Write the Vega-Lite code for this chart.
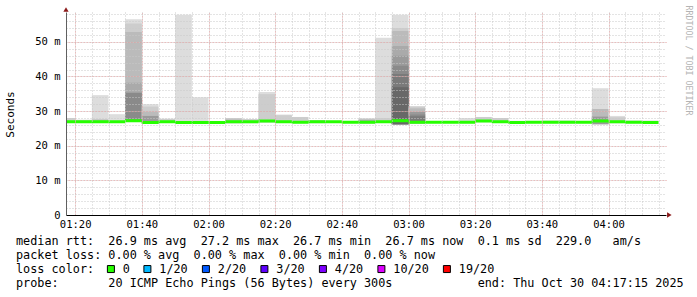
{
  "$schema": "https://vega.github.io/schema/vega-lite/v6.json",
  "width": 600,
  "height": 203,
  "autosize": "none",
  "padding": {"left": 66, "top": 12, "right": 31, "bottom": 82},
  "background": "white",
  "config": {"view": {"stroke": null}, "font": "DejaVu Sans Mono"},
  "title": {
    "text": [
      "median\u00a0rtt:\u00a0\u00a026.9\u00a0ms\u00a0avg\u00a0\u00a027.2\u00a0ms\u00a0max\u00a0\u00a026.7\u00a0ms\u00a0min\u00a0\u00a026.7\u00a0ms\u00a0now\u00a0\u00a00.1\u00a0ms\u00a0sd\u00a0\u00a0229.0\u00a0\u00a0\u00a0am/s",
      "packet\u00a0loss:\u00a00.00\u00a0%\u00a0avg\u00a0\u00a00.00\u00a0%\u00a0max\u00a0\u00a00.00\u00a0%\u00a0min\u00a0\u00a00.00\u00a0%\u00a0now"
    ],
    "subtitle": "probe:\u00a0\u00a0\u00a0\u00a0\u00a0\u00a0\u00a020\u00a0ICMP\u00a0Echo\u00a0Pings\u00a0(56\u00a0Bytes)\u00a0every\u00a0300s\u00a0\u00a0\u00a0\u00a0\u00a0\u00a0\u00a0\u00a0\u00a0\u00a0\u00a0\u00a0end:\u00a0Thu\u00a0Oct\u00a030\u00a004:17:15\u00a02025",
    "orient": "bottom",
    "anchor": "start",
    "frame": "group",
    "font": "DejaVu Sans Mono",
    "fontSize": 11.8,
    "fontWeight": "normal",
    "color": "black",
    "lineHeight": 14,
    "subtitleFont": "DejaVu Sans Mono",
    "subtitleFontSize": 11.8,
    "subtitleColor": "black",
    "subtitlePadding": 16,
    "baseline": "top",
    "dx": -50,
    "dy": -46,
    "offset": 6
  },
  "resolve": {"scale": {"x": "shared", "y": "shared"}, "axis": {"x": "independent", "y": "independent"}},
  "layer": [
    {
      "data": {
        "values": [
          {"s": "01:15", "e": "01:20", "lo": 26.6, "hi": 28.0, "lv": "2"},
          {"s": "01:20", "e": "01:25", "lo": 26.6, "hi": 27.5, "lv": "2"},
          {"s": "01:25", "e": "01:30", "lo": 26.6, "hi": 34.6, "lv": "1"},
          {"s": "01:25", "e": "01:30", "lo": 26.6, "hi": 27.6, "lv": "3"},
          {"s": "01:30", "e": "01:35", "lo": 26.6, "hi": 29.1, "lv": "1"},
          {"s": "01:35", "e": "01:40", "lo": 26.9, "hi": 56.5, "lv": "1"},
          {"s": "01:35", "e": "01:40", "lo": 26.9, "hi": 55.3, "lv": "2"},
          {"s": "01:35", "e": "01:40", "lo": 26.9, "hi": 52.8, "lv": "3"},
          {"s": "01:35", "e": "01:40", "lo": 26.9, "hi": 38.2, "lv": "4"},
          {"s": "01:35", "e": "01:40", "lo": 26.9, "hi": 35.3, "lv": "6"},
          {"s": "01:40", "e": "01:45", "lo": 26.4, "hi": 32.0, "lv": "1"},
          {"s": "01:40", "e": "01:45", "lo": 26.4, "hi": 31.3, "lv": "2"},
          {"s": "01:40", "e": "01:45", "lo": 26.4, "hi": 29.8, "lv": "3"},
          {"s": "01:40", "e": "01:45", "lo": 26.4, "hi": 28.6, "lv": "5"},
          {"s": "01:45", "e": "01:50", "lo": 26.6, "hi": 27.8, "lv": "2"},
          {"s": "01:50", "e": "01:55", "lo": 26.4, "hi": 57.8, "lv": "1"},
          {"s": "01:55", "e": "02:00", "lo": 26.4, "hi": 34.0, "lv": "1"},
          {"s": "02:05", "e": "02:10", "lo": 26.5, "hi": 28.0, "lv": "2"},
          {"s": "02:05", "e": "02:10", "lo": 26.5, "hi": 27.6, "lv": "3"},
          {"s": "02:10", "e": "02:15", "lo": 26.5, "hi": 27.7, "lv": "2"},
          {"s": "02:15", "e": "02:20", "lo": 26.7, "hi": 35.5, "lv": "1"},
          {"s": "02:15", "e": "02:20", "lo": 26.7, "hi": 34.9, "lv": "2"},
          {"s": "02:20", "e": "02:25", "lo": 26.6, "hi": 29.0, "lv": "1"},
          {"s": "02:20", "e": "02:25", "lo": 26.6, "hi": 28.8, "lv": "2"},
          {"s": "02:25", "e": "02:30", "lo": 26.5, "hi": 28.3, "lv": "2"},
          {"s": "02:30", "e": "02:35", "lo": 26.5, "hi": 27.4, "lv": "2"},
          {"s": "02:45", "e": "02:50", "lo": 26.5, "hi": 27.9, "lv": "2"},
          {"s": "02:45", "e": "02:50", "lo": 26.5, "hi": 27.5, "lv": "4"},
          {"s": "02:50", "e": "02:55", "lo": 26.6, "hi": 51.2, "lv": "1"},
          {"s": "02:50", "e": "02:55", "lo": 26.6, "hi": 28.0, "lv": "2"},
          {"s": "02:55", "e": "03:00", "lo": 26.2, "hi": 57.8, "lv": "1"},
          {"s": "02:55", "e": "03:00", "lo": 26.2, "hi": 54.0, "lv": "2"},
          {"s": "02:55", "e": "03:00", "lo": 26.2, "hi": 53.1, "lv": "3"},
          {"s": "02:55", "e": "03:00", "lo": 26.2, "hi": 48.8, "lv": "4"},
          {"s": "02:55", "e": "03:00", "lo": 26.2, "hi": 46.0, "lv": "5"},
          {"s": "02:55", "e": "03:00", "lo": 26.2, "hi": 43.1, "lv": "6"},
          {"s": "02:55", "e": "03:00", "lo": 26.2, "hi": 40.7, "lv": "7"},
          {"s": "02:55", "e": "03:00", "lo": 26.2, "hi": 36.9, "lv": "8"},
          {"s": "03:00", "e": "03:05", "lo": 26.5, "hi": 31.4, "lv": "2"},
          {"s": "03:00", "e": "03:05", "lo": 26.5, "hi": 30.8, "lv": "3"},
          {"s": "03:00", "e": "03:05", "lo": 26.5, "hi": 29.8, "lv": "5"},
          {"s": "03:00", "e": "03:05", "lo": 26.5, "hi": 29.0, "lv": "6"},
          {"s": "03:00", "e": "03:05", "lo": 26.5, "hi": 28.5, "lv": "7"},
          {"s": "03:15", "e": "03:20", "lo": 26.5, "hi": 28.0, "lv": "1"},
          {"s": "03:20", "e": "03:25", "lo": 26.8, "hi": 28.3, "lv": "2"},
          {"s": "03:25", "e": "03:30", "lo": 26.6, "hi": 28.0, "lv": "2"},
          {"s": "03:30", "e": "03:35", "lo": 26.3, "hi": 27.2, "lv": "1"},
          {"s": "03:40", "e": "03:45", "lo": 26.5, "hi": 27.3, "lv": "1"},
          {"s": "03:45", "e": "03:50", "lo": 26.5, "hi": 27.3, "lv": "1"},
          {"s": "03:55", "e": "04:00", "lo": 26.2, "hi": 36.6, "lv": "1"},
          {"s": "03:55", "e": "04:00", "lo": 26.2, "hi": 30.6, "lv": "3"},
          {"s": "03:55", "e": "04:00", "lo": 26.2, "hi": 28.4, "lv": "5"},
          {"s": "04:00", "e": "04:05", "lo": 26.5, "hi": 28.6, "lv": "1"},
          {"s": "04:00", "e": "04:05", "lo": 26.5, "hi": 28.2, "lv": "2"},
          {"s": "04:05", "e": "04:10", "lo": 26.5, "hi": 27.3, "lv": "1"},
          {"s": "04:10", "e": "04:15", "lo": 26.5, "hi": 27.3, "lv": "1"}
        ],
        "format": {"parse": {"s": "utc:'%H:%M'", "e": "utc:'%H:%M'"}}
      },
      "mark": {"type": "rect", "clip": true},
      "encoding": {
        "x": {
          "field": "s",
          "type": "temporal",
          "scale": {
            "type": "utc",
            "domain": [
              {"year": 1900, "month": 1, "date": 1, "hours": 1, "minutes": 17, "seconds": 15, "utc": true},
              {"year": 1900, "month": 1, "date": 1, "hours": 4, "minutes": 17, "seconds": 15, "utc": true}
            ]
          },
          "axis": {
            "orient": "bottom",
            "title": null,
            "tickCount": 36,
            "labelExpr": "utcminutes(datum.value) % 20 == 0 ? utcFormat(datum.value, '%H:%M') : ''",
            "labelOverlap": false,
            "labelFlush": false,
            "grid": true,
            "gridColor": "#c8c8c8",
            "gridDash": [1, 2],
            "gridWidth": 1,
            "ticks": false,
            "domainColor": "black",
            "domainWidth": 1,
            "labelFont": "DejaVu Sans Mono",
            "labelFontSize": 10.5,
            "labelColor": "black",
            "labelPadding": 4,
            "zindex": 1
          }
        },
        "x2": {"field": "e"},
        "y": {
          "field": "lo",
          "type": "quantitative",
          "scale": {"domain": [0, 58.6], "nice": false, "zero": true},
          "axis": {
            "orient": "left",
            "values": [0, 2, 4, 6, 8, 10, 12, 14, 16, 18, 20, 22, 24, 26, 28, 30, 32, 34, 36, 38, 40, 42, 44, 46, 48, 50, 52, 54, 56, 58],
            "labelExpr": "datum.value == 0 ? '0' : (datum.value % 10 == 0 ? datum.value + ' m' : '')",
            "labelOverlap": false,
            "labelFlush": false,
            "grid": true,
            "gridColor": "#c8c8c8",
            "gridDash": [1, 2],
            "gridWidth": 1,
            "ticks": false,
            "domainColor": "#606060",
            "domainWidth": 1,
            "labelFont": "DejaVu Sans Mono",
            "labelFontSize": 10.5,
            "labelColor": "black",
            "labelPadding": 6,
            "title": "Seconds",
            "titleFont": "DejaVu Sans Mono",
            "titleFontSize": 11,
            "titleFontWeight": "normal",
            "titleColor": "black",
            "titleAngle": 270,
            "titleX": -56,
            "titleY": 102,
            "titleAlign": "center",
            "titleBaseline": "middle",
            "zindex": 1
          }
        },
        "y2": {"field": "hi"},
        "fill": {
          "field": "lv",
          "type": "nominal",
          "scale": {
            "domain": ["1", "2", "3", "4", "5", "6", "7", "8"],
            "range": ["#dddddd", "#cdcdcd", "#bbbbbb", "#aaaaaa", "#9a9a9a", "#8a8a8a", "#7a7a7a", "#686868"]
          },
          "legend": null
        }
      }
    },
    {
      "data": {
        "values": [
          {"s": "01:15", "e": "01:20", "m": 26.9, "loss": "0"},
          {"s": "01:20", "e": "01:25", "m": 26.9, "loss": "0"},
          {"s": "01:25", "e": "01:30", "m": 26.9, "loss": "0"},
          {"s": "01:30", "e": "01:35", "m": 26.9, "loss": "0"},
          {"s": "01:35", "e": "01:40", "m": 27.2, "loss": "0"},
          {"s": "01:40", "e": "01:45", "m": 26.7, "loss": "0"},
          {"s": "01:45", "e": "01:50", "m": 26.9, "loss": "0"},
          {"s": "01:50", "e": "01:55", "m": 26.7, "loss": "0"},
          {"s": "01:55", "e": "02:00", "m": 26.7, "loss": "0"},
          {"s": "02:00", "e": "02:05", "m": 26.7, "loss": "0"},
          {"s": "02:05", "e": "02:10", "m": 26.9, "loss": "0"},
          {"s": "02:10", "e": "02:15", "m": 26.9, "loss": "0"},
          {"s": "02:15", "e": "02:20", "m": 27.1, "loss": "0"},
          {"s": "02:20", "e": "02:25", "m": 26.9, "loss": "0"},
          {"s": "02:25", "e": "02:30", "m": 26.8, "loss": "0"},
          {"s": "02:30", "e": "02:35", "m": 26.9, "loss": "0"},
          {"s": "02:35", "e": "02:40", "m": 26.9, "loss": "0"},
          {"s": "02:40", "e": "02:45", "m": 26.8, "loss": "0"},
          {"s": "02:45", "e": "02:50", "m": 26.8, "loss": "0"},
          {"s": "02:50", "e": "02:55", "m": 26.9, "loss": "0"},
          {"s": "02:55", "e": "03:00", "m": 27.2, "loss": "0"},
          {"s": "03:00", "e": "03:05", "m": 26.8, "loss": "0"},
          {"s": "03:05", "e": "03:10", "m": 26.8, "loss": "0"},
          {"s": "03:10", "e": "03:15", "m": 26.8, "loss": "0"},
          {"s": "03:15", "e": "03:20", "m": 26.8, "loss": "0"},
          {"s": "03:20", "e": "03:25", "m": 27.1, "loss": "0"},
          {"s": "03:25", "e": "03:30", "m": 26.9, "loss": "0"},
          {"s": "03:30", "e": "03:35", "m": 26.7, "loss": "0"},
          {"s": "03:35", "e": "03:40", "m": 26.8, "loss": "0"},
          {"s": "03:40", "e": "03:45", "m": 26.8, "loss": "0"},
          {"s": "03:45", "e": "03:50", "m": 26.8, "loss": "0"},
          {"s": "03:50", "e": "03:55", "m": 26.8, "loss": "0"},
          {"s": "03:55", "e": "04:00", "m": 27.1, "loss": "0"},
          {"s": "04:00", "e": "04:05", "m": 26.9, "loss": "0"},
          {"s": "04:05", "e": "04:10", "m": 26.8, "loss": "0"},
          {"s": "04:10", "e": "04:15", "m": 26.7, "loss": "0"}
        ],
        "format": {"parse": {"s": "utc:'%H:%M'", "e": "utc:'%H:%M'"}}
      },
      "mark": {"type": "rect", "clip": true, "stroke": "#26ff00", "strokeWidth": 3},
      "encoding": {
        "x": {
          "field": "s",
          "type": "temporal",
          "axis": {
            "orient": "top",
            "title": null,
            "labels": false,
            "ticks": false,
            "domain": false,
            "grid": true,
            "gridColor": "#e49c9c",
            "gridDash": [1, 2],
            "gridWidth": 1,
            "zindex": 1,
            "values": [
              {"year": 1900, "month": 1, "date": 1, "hours": 1, "minutes": 20, "utc": true},
              {"year": 1900, "month": 1, "date": 1, "hours": 1, "minutes": 40, "utc": true},
              {"year": 1900, "month": 1, "date": 1, "hours": 2, "minutes": 0, "utc": true},
              {"year": 1900, "month": 1, "date": 1, "hours": 2, "minutes": 20, "utc": true},
              {"year": 1900, "month": 1, "date": 1, "hours": 2, "minutes": 40, "utc": true},
              {"year": 1900, "month": 1, "date": 1, "hours": 3, "minutes": 0, "utc": true},
              {"year": 1900, "month": 1, "date": 1, "hours": 3, "minutes": 20, "utc": true},
              {"year": 1900, "month": 1, "date": 1, "hours": 3, "minutes": 40, "utc": true},
              {"year": 1900, "month": 1, "date": 1, "hours": 4, "minutes": 0, "utc": true}
            ]
          }
        },
        "x2": {"field": "e"},
        "y": {
          "field": "m",
          "type": "quantitative",
          "axis": {
            "orient": "right",
            "values": [10, 20, 30, 40, 50],
            "title": "RRDTOOL / TOBI OETIKER",
            "labels": false,
            "ticks": false,
            "domain": false,
            "grid": true,
            "gridColor": "#e49c9c",
            "gridDash": [1, 2],
            "gridWidth": 1,
            "zindex": 1,
            "titleAngle": 90,
            "titleX": 21,
            "titleY": -7,
            "titleAlign": "left",
            "titleBaseline": "middle",
            "titleColor": "#b4b4b4",
            "titleFont": "DejaVu Sans Mono",
            "titleFontSize": 8.3,
            "titleFontWeight": "normal"
          }
        },
        "y2": {"field": "m"},
        "color": {
          "field": "loss",
          "type": "nominal",
          "scale": {
            "domain": ["0", "1/20", "2/20", "3/20", "4/20", "10/20", "19/20"],
            "range": ["#26ff00", "#00b8ff", "#0059ff", "#5e00ff", "#7e00ff", "#dd00ff", "#ff0000"]
          },
          "legend": {
            "orient": "none",
            "legendX": -50,
            "legendY": 251,
            "direction": "horizontal",
            "title": "loss color:",
            "titleOrient": "left",
            "titleFont": "DejaVu Sans Mono",
            "titleFontSize": 11.8,
            "titleFontWeight": "normal",
            "titleColor": "black",
            "titlePadding": 10,
            "labelFont": "DejaVu Sans Mono",
            "labelFontSize": 11.8,
            "labelColor": "black",
            "labelOffset": 6,
            "columnPadding": 11.5,
            "symbolType": "square",
            "symbolSize": 49,
            "symbolStrokeWidth": 1,
            "symbolStrokeColor": "black",
            "symbolOpacity": 1
          }
        }
      }
    },
    {
      "data": {"values": [{}]},
      "mark": {"type": "point", "shape": "triangle-up", "filled": true, "color": "#8b1a1a", "size": 28, "opacity": 1, "clip": false},
      "encoding": {
        "x": {"datum": {"year": 1900, "month": 1, "date": 1, "hours": 1, "minutes": 17, "seconds": 15, "utc": true}, "type": "temporal", "axis": null},
        "y": {"datum": 59.3, "type": "quantitative", "axis": null}
      }
    },
    {
      "data": {"values": [{}]},
      "mark": {"type": "point", "shape": "triangle-right", "filled": true, "color": "#8b1a1a", "size": 28, "opacity": 1, "clip": false},
      "encoding": {
        "x": {"datum": {"year": 1900, "month": 1, "date": 1, "hours": 4, "minutes": 18, "seconds": 15, "utc": true}, "type": "temporal", "axis": null},
        "y": {"datum": 0, "type": "quantitative", "axis": null}
      }
    }
  ]
}
